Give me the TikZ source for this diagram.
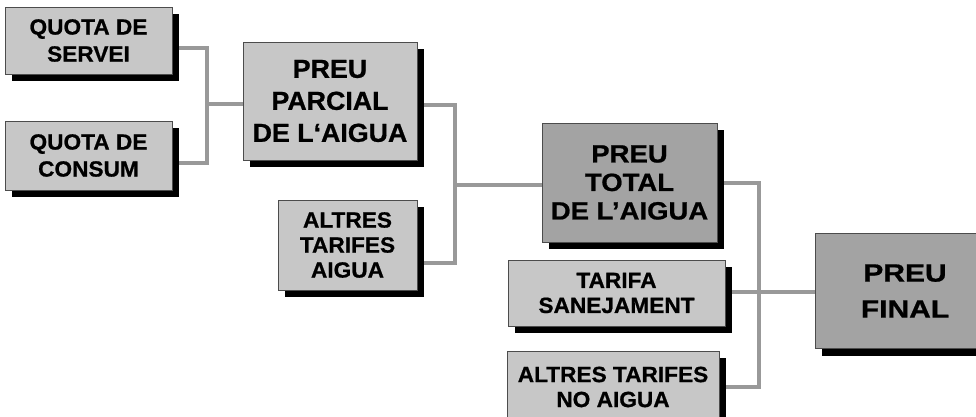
\documentclass[tikz,border=0pt]{standalone}
\usepackage{fontspec}
\setmainfont{Liberation Sans}[FakeStretch=1.03, BoldFeatures={FakeBold=0.8}]
\usetikzlibrary{shadows}
\pgfdeclarelayer{background}
\pgfsetlayers{background,main}
\tikzset{
  box/.style={draw=black!70, line width=0.8pt, fill=black!22, align=center,
    inner sep=0pt, text=black,
    general shadow={fill=black, shadow xshift=6.5pt, shadow yshift=-7pt}},
  darkbox/.style={box, fill=black!36},
  link/.style={draw=black!40, line width=3.5pt},
}
\begin{document}
\begin{tikzpicture}[x=1pt,y=-1pt]
\useasboundingbox (0,0) rectangle (976,417);
\clip (0,0) rectangle (976,417);
% boxes
\node[box, font=\fontsize{22}{27}\selectfont\bfseries, minimum width=167pt, minimum height=67pt] (q1) at (88.5,40.5) {QUOTA DE\\SERVEI};
\node[box, font=\fontsize{22}{27}\selectfont\bfseries, minimum width=167pt, minimum height=69pt] (q2) at (88.5,155.5) {QUOTA DE\\CONSUM};
\node[box, font=\fontsize{26}{32}\selectfont\bfseries, minimum width=174pt, minimum height=118pt] (pp) at (330,101) {PREU\\PARCIAL\\DE L‘AIGUA};
\node[box, font=\fontsize{22}{25}\selectfont\bfseries, minimum width=139pt, minimum height=90pt] (ata) at (347.5,245) {ALTRES\\TARIFES\\AIGUA};
\node[darkbox, font=\fontsize{25}{28.5}\selectfont\bfseries\addfontfeature{FakeStretch=1.1}, minimum width=175pt, minimum height=119pt] (pt) at (629.5,182.5) {PREU\\TOTAL\\DE L'AIGUA};
\node[box, font=\fontsize{22}{25}\selectfont\bfseries, minimum width=217pt, minimum height=66pt] (ts) at (616.5,293) {TARIFA\\SANEJAMENT};
\node[box, font=\fontsize{22}{25}\selectfont\bfseries, minimum width=212pt, minimum height=72pt] (na) at (613,387) {ALTRES TARIFES\\NO AIGUA};
\node[darkbox, font=\fontsize{25}{36}\selectfont\bfseries\addfontfeature{FakeStretch=1.2}, minimum width=180pt, minimum height=115pt] (pf) at (905,291) {PREU\\FINAL};
% junction coordinates
\coordinate (a1) at (207,48);
\coordinate (j1) at (207,104);
\coordinate (b1) at (207,163);
\coordinate (a2) at (455,105);
\coordinate (j2) at (455,185);
\coordinate (b2) at (455,263);
\coordinate (a3) at (759,183);
\coordinate (j3) at (759,292);
\coordinate (b3) at (759,387);
\begin{pgfonlayer}{background}
\draw[link] (q1.east |- a1) -- (a1) -- (b1) -- (q2.east |- b1);
\draw[link] (j1) -- (pp.west |- j1);
\draw[link] (pp.east |- a2) -- (a2) -- (b2) -- (ata.east |- b2);
\draw[link] (j2) -- (pt.west |- j2);
\draw[link] (pt.east |- a3) -- (a3) -- (b3) -- (na.east |- b3);
\draw[link] (ts.east |- j3) -- (pf.west |- j3);
\end{pgfonlayer}
\end{tikzpicture}
\end{document}
